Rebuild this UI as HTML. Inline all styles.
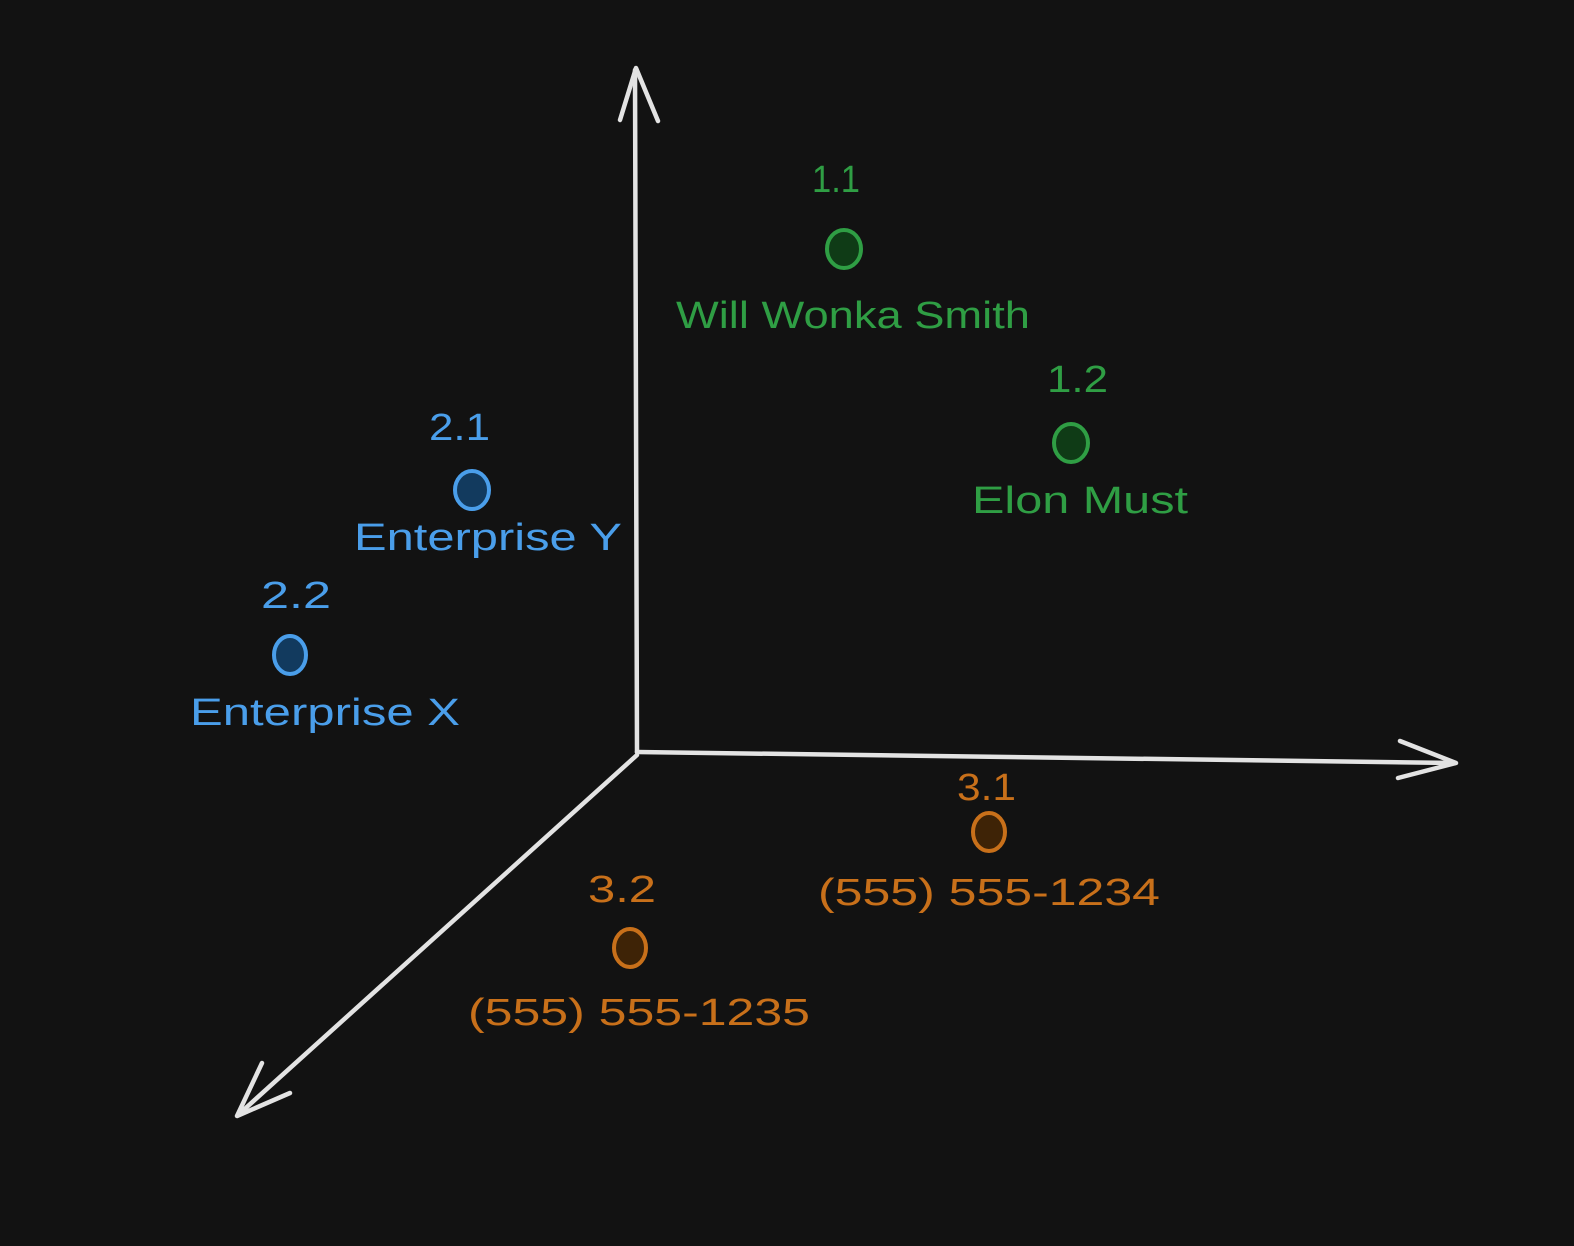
<!DOCTYPE html>
<html><head><meta charset="utf-8"><style>
html,body{margin:0;padding:0;background:#121212;}
svg{display:block}
text{font-family:"Liberation Sans",sans-serif;font-size:38px;}
.g{fill:#2f9e44}.b{fill:#4a9eea}.o{fill:#c8701a}
</style></head><body>
<svg width="1574" height="1246" viewBox="0 0 1574 1246" xmlns="http://www.w3.org/2000/svg">
<rect width="1574" height="1246" fill="#121212"/>
<g stroke="#e3e3e3" stroke-width="4.5" fill="none" stroke-linecap="round" stroke-linejoin="round">
<path d="M637 752 L635 70"/>
<path d="M620 120 L636 68 L658 121"/>
<path d="M637 752 L1455 763"/>
<path d="M1400 741 L1456 763 L1398 778"/>
<path d="M637 755 L238 1115"/>
<path d="M262 1063 L237 1116 L290 1093"/>
</g>
<g stroke-width="4">
<ellipse cx="844" cy="249" rx="17" ry="19" fill="#0f3b16" stroke="#2f9e44"/>
<ellipse cx="1071" cy="443" rx="17" ry="19" fill="#0f3b16" stroke="#2f9e44"/>
<ellipse cx="472" cy="490" rx="17" ry="19" fill="#123a5e" stroke="#4a9eea"/>
<ellipse cx="290" cy="655" rx="16" ry="19" fill="#123a5e" stroke="#4a9eea"/>
<ellipse cx="989" cy="832" rx="16" ry="19" fill="#3e2306" stroke="#c8701a"/>
<ellipse cx="630" cy="948" rx="16" ry="19" fill="#3e2306" stroke="#c8701a"/>
</g>
<text class="g" x="812" y="192" textLength="48" lengthAdjust="spacingAndGlyphs">1.1</text>
<text class="g" x="676" y="328" textLength="354" lengthAdjust="spacingAndGlyphs">Will Wonka Smith</text>
<text class="g" x="1047" y="392" textLength="61" lengthAdjust="spacingAndGlyphs">1.2</text>
<text class="g" x="972" y="513" textLength="216" lengthAdjust="spacingAndGlyphs">Elon Must</text>
<text class="b" x="429" y="440" textLength="61" lengthAdjust="spacingAndGlyphs">2.1</text>
<text class="b" x="354" y="550" textLength="268" lengthAdjust="spacingAndGlyphs">Enterprise Y</text>
<text class="b" x="261" y="608" textLength="70" lengthAdjust="spacingAndGlyphs">2.2</text>
<text class="b" x="190" y="725" textLength="270" lengthAdjust="spacingAndGlyphs">Enterprise X</text>
<text class="o" x="957" y="800" textLength="59" lengthAdjust="spacingAndGlyphs">3.1</text>
<text class="o" x="818" y="905" textLength="342" lengthAdjust="spacingAndGlyphs">(555) 555-1234</text>
<text class="o" x="588" y="902" textLength="68" lengthAdjust="spacingAndGlyphs">3.2</text>
<text class="o" x="468" y="1025" textLength="342" lengthAdjust="spacingAndGlyphs">(555) 555-1235</text>
</svg>
</body></html>
